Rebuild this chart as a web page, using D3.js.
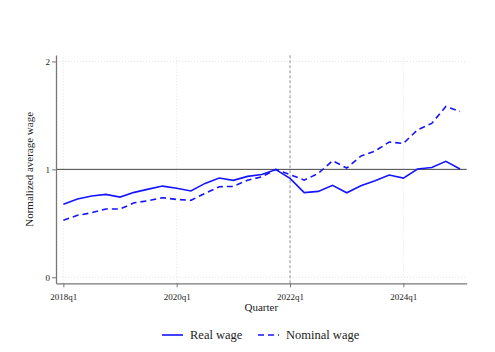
<!DOCTYPE html>
<html>
<head>
<meta charset="utf-8">
<script src="https://cdn.jsdelivr.net/npm/d3@7"></script>
<style>
  body { margin: 0; background: #fff; }
  svg { display: block; font-family: "Liberation Serif", "DejaVu Serif", serif; }
</style>
</head>
<body>
<div id="chart"></div>
<script>
// quarters 2018q1 .. 2025q1 (index 0..28)
var quarters = d3.range(0, 29);
var realWage = [0.676, 0.725, 0.753, 0.768, 0.743, 0.787, 0.817, 0.845, 0.825,
                0.800, 0.870, 0.920, 0.898, 0.935, 0.953, 0.998, 0.916, 0.785,
                0.796, 0.852, 0.783, 0.848, 0.895, 0.947, 0.919, 1.003, 1.018,
                1.074, 1.003];
var nominalWage = [0.528, 0.574, 0.598, 0.632, 0.632, 0.690, 0.710, 0.737, 0.721,
                   0.713, 0.778, 0.839, 0.842, 0.900, 0.930, 1.000, 0.952, 0.900,
                   0.963, 1.080, 1.012, 1.123, 1.170, 1.253, 1.240, 1.367, 1.426,
                   1.583, 1.537];
var xTicks = [0, 8, 16, 24];
var xTickLabels = ["2018q1", "2020q1", "2022q1", "2024q1"];
var yTicks = [0, 1, 2];
var eventQuarter = 16; // 2022q1

var w = 495, h = 352;
var svg = d3.select("#chart").append("svg")
    .attr("width", w)
    .attr("height", h);

var xScale = d3.scaleLinear().domain([-0.52, 28.47]).range([56, 466.7]);
var yScale = d3.scaleLinear().domain([-0.056, 2.06]).range([283.3, 55]);

// grid (light dotted)
svg.append("g").selectAll("line.hgrid")
    .data(yTicks.filter(d => d !== 1))
    .enter().append("line")
    .attr("x1", xScale.range()[0]).attr("x2", xScale.range()[1])
    .attr("y1", d => yScale(d)).attr("y2", d => yScale(d))
    .style("stroke", "#e4e4e4")
    .style("stroke-dasharray", "1,2")
    .style("stroke-width", 1);

svg.append("g").selectAll("line.vgrid")
    .data(xTicks.filter(d => d !== eventQuarter))
    .enter().append("line")
    .attr("x1", d => xScale(d)).attr("x2", d => xScale(d))
    .attr("y1", yScale.range()[0]).attr("y2", yScale.range()[1])
    .style("stroke", "#e4e4e4")
    .style("stroke-dasharray", "1,2")
    .style("stroke-width", 1);

// reference line at 1
svg.append("line")
    .attr("x1", xScale.range()[0]).attr("x2", xScale.range()[1])
    .attr("y1", yScale(1)).attr("y2", yScale(1))
    .style("stroke", "#444")
    .style("stroke-width", 1);

// vertical dashed line at 2022q1
svg.append("line")
    .attr("x1", xScale(eventQuarter)).attr("x2", xScale(eventQuarter))
    .attr("y1", yScale.range()[0]).attr("y2", yScale.range()[1])
    .style("stroke", "#aaa")
    .style("stroke-width", 1.3)
    .style("stroke-dasharray", "3,2");

// axes
var xAxis = svg.append("g")
    .attr("transform", `translate(0,${yScale.range()[0]})`)
    .call(d3.axisBottom(xScale)
        .tickValues(xTicks)
        .tickFormat((d, i) => xTickLabels[i])
        .tickSize(4)
        .tickSizeOuter(0));

var yAxis = svg.append("g")
    .attr("transform", `translate(${xScale.range()[0]},0)`)
    .call(d3.axisLeft(yScale)
        .tickValues(yTicks)
        .tickFormat(d3.format("d"))
        .tickSize(4)
        .tickSizeOuter(0));

[xAxis, yAxis].forEach(function(a) {
    a.select(".domain").style("stroke", "#777").style("stroke-width", 1.3);
    a.selectAll(".tick line").style("stroke", "#777").style("stroke-width", 1);
    a.selectAll(".tick text")
        .style("font-family", "'Liberation Serif', serif")
        .style("font-size", "9px")
        .style("fill", "#222");
});
xAxis.selectAll(".tick text").attr("dy", "1.1em");
yAxis.selectAll(".tick text").attr("x", -6);

// lines
var line = function(values) {
    return d3.line()
        .x((d, i) => xScale(quarters[i]))
        .y(d => yScale(d))(values);
};

svg.append("path")
    .attr("class", "line nominal")
    .attr("d", line(nominalWage))
    .style("fill", "none")
    .style("stroke", "#1414ff")
    .style("stroke-width", 1.6)
    .style("stroke-dasharray", "6,4");

svg.append("path")
    .attr("class", "line real")
    .attr("d", line(realWage))
    .style("fill", "none")
    .style("stroke", "#1414ff")
    .style("stroke-width", 1.6);

// axis titles
svg.append("text")
    .attr("text-anchor", "middle")
    .attr("x", (xScale.range()[0] + xScale.range()[1]) / 2)
    .attr("y", 311)
    .style("font-size", "11px")
    .style("fill", "#222")
    .text("Quarter");

svg.append("text")
    .attr("text-anchor", "middle")
    .attr("transform", `translate(33,${yScale(1)}) rotate(-90)`)
    .style("font-size", "11px")
    .style("fill", "#222")
    .text("Normalized average wage");

// legend
var legendData = [
    { label: "Real wage", dash: null, x: 162 },
    { label: "Nominal wage", dash: "6,4", x: 258 }
];
var legendItem = svg.append("g").attr("class", "legend")
    .selectAll(".legend-item")
    .data(legendData)
    .enter().append("g")
    .attr("transform", d => `translate(${d.x},335)`);

legendItem.append("line")
    .attr("x1", 0).attr("x2", 21)
    .style("stroke", "#1414ff")
    .style("stroke-width", 1.6)
    .style("stroke-dasharray", d => d.dash);

legendItem.append("text")
    .attr("x", 28)
    .attr("y", 4)
    .style("font-size", "12.5px")
    .style("fill", "#222")
    .text(d => d.label);
</script>
</body>
</html>
